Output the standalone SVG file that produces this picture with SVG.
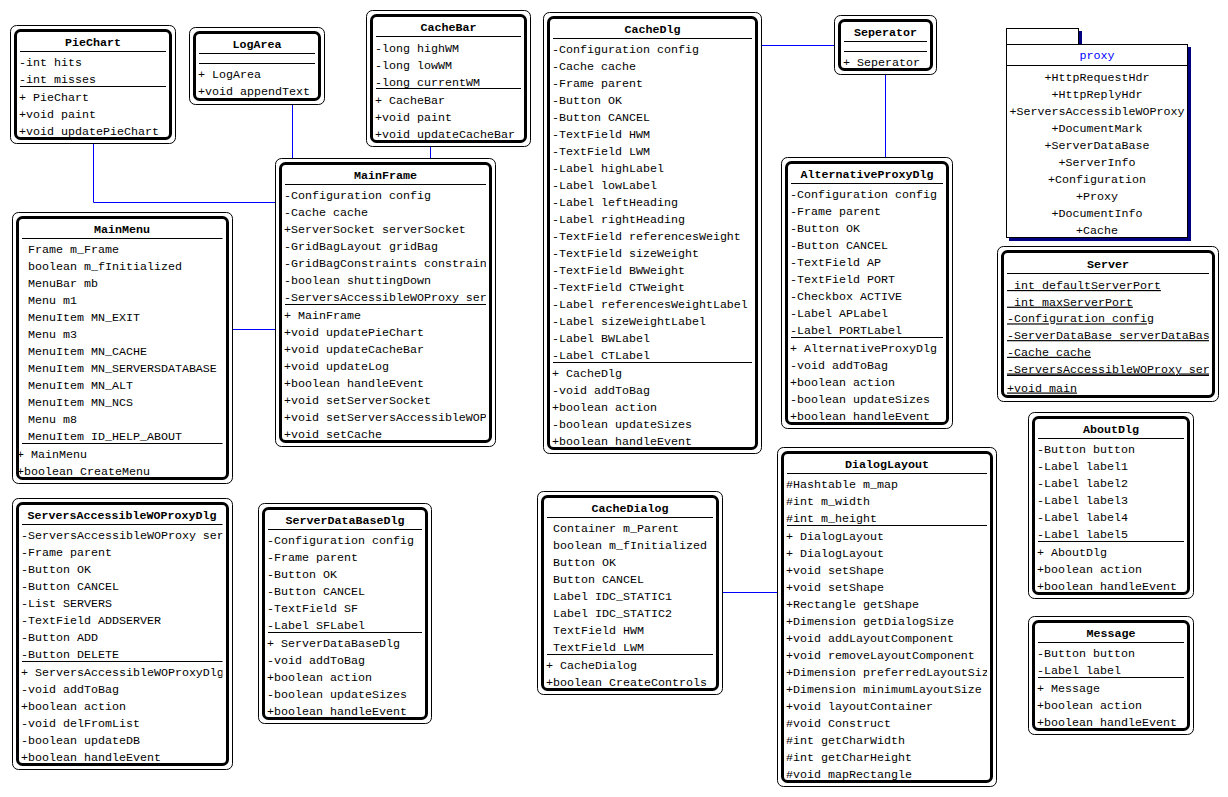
<svg xmlns="http://www.w3.org/2000/svg" width="1228" height="797" viewBox="0 0 1228 797">
<style>
.o{fill:#fff;stroke:#000;stroke-width:1}
.i{fill:none;stroke:#000;stroke-width:3}
.s{stroke:#000;stroke-width:1}
.t{font-family:"Liberation Mono","DejaVu Sans Mono",monospace;font-size:11.67px;fill:#000;white-space:pre}
.h{font-weight:bold;text-anchor:middle}
.u{text-decoration:underline}
.c{stroke:#0000ff;stroke-width:1;fill:none}
.pk{fill:#fff;stroke:#000;stroke-width:1}
.sh{fill:#000080}
.pc{text-anchor:middle}
</style>
<defs>
<clipPath id="cMainFrame"><rect x="284" y="158" width="202" height="289"/></clipPath>
<clipPath id="cServer"><rect x="1006" y="246" width="203" height="156"/></clipPath>
<clipPath id="cSAW"><rect x="21" y="498" width="201.5" height="272"/></clipPath>
<clipPath id="cDL"><rect x="786" y="447" width="201" height="340"/></clipPath>
</defs>
<rect width="1228" height="797" fill="#fff"/>

<g id="connectors">
<polyline class="c" points="93.5,144 93.5,202.5 275,202.5"/>
<line class="c" x1="292.5" y1="104" x2="292.5" y2="158"/>
<line class="c" x1="430.5" y1="146" x2="430.5" y2="158"/>
<line class="c" x1="232" y1="329.5" x2="275" y2="329.5"/>
<line class="c" x1="762" y1="45.5" x2="834" y2="45.5"/>
<line class="c" x1="885.5" y1="75" x2="885.5" y2="157"/>
<line class="c" x1="723" y1="592.5" x2="777" y2="592.5"/>
</g>

<g id="PieChart">
<rect class="o" x="10.5" y="25.5" width="165" height="118" rx="6"/>
<rect class="i" x="15.5" y="30.5" width="155" height="108" rx="5"/>
<text class="t h" x="93" y="46">PieChart</text>
<line class="s" x1="20" y1="51.5" x2="166" y2="51.5"/>
<text class="t" x="19" y="66">-int hits</text>
<text class="t" x="19" y="83">-int misses</text>
<line class="s" x1="20" y1="86.5" x2="166" y2="86.5"/>
<text class="t" x="19" y="101">+ PieChart</text>
<text class="t" x="19" y="118">+void paint</text>
<text class="t" x="19" y="135">+void updatePieChart</text>
</g>

<g id="LogArea">
<rect class="o" x="189.5" y="27.5" width="135" height="77" rx="6"/>
<rect class="i" x="194.5" y="32.5" width="125" height="67" rx="5"/>
<text class="t h" x="257" y="48">LogArea</text>
<line class="s" x1="199" y1="53.5" x2="315" y2="53.5"/>
<line class="s" x1="199" y1="63.5" x2="315" y2="63.5"/>
<text class="t" x="198" y="78">+ LogArea</text>
<text class="t" x="198" y="95">+void appendText</text>
</g>

<g id="CacheBar">
<rect class="o" x="366.5" y="10.5" width="164" height="136" rx="6"/>
<rect class="i" x="371.5" y="15.5" width="154" height="126" rx="5"/>
<text class="t h" x="448.5" y="31">CacheBar</text>
<line class="s" x1="376" y1="36.5" x2="521" y2="36.5"/>
<text class="t" x="375" y="51.5">-long highWM</text>
<text class="t" x="375" y="68.5">-long lowWM</text>
<text class="t" x="375" y="85.5">-long currentWM</text>
<line class="s" x1="376" y1="88.5" x2="521" y2="88.5"/>
<text class="t" x="375" y="103.5">+ CacheBar</text>
<text class="t" x="375" y="120.5">+void paint</text>
<text class="t" x="375" y="137.5">+void updateCacheBar</text>
</g>

<g id="MainFrame">
<rect class="o" x="275.5" y="158.5" width="220" height="288" rx="6"/>
<rect class="i" x="280.5" y="163.5" width="210" height="278" rx="5"/>
<text class="t h" x="385.5" y="179">MainFrame</text>
<line class="s" x1="285" y1="184.5" x2="486" y2="184.5"/>
<g clip-path="url(#cMainFrame)">
<text class="t" x="284" y="199">-Configuration config</text>
<text class="t" x="284" y="216">-Cache cache</text>
<text class="t" x="284" y="233">+ServerSocket serverSocket</text>
<text class="t" x="284" y="250">-GridBagLayout gridBag</text>
<text class="t" x="284" y="267">-GridBagConstraints constrain</text>
<text class="t" x="284" y="284">-boolean shuttingDown</text>
<text class="t" x="284" y="301">-ServersAccessibleWOProxy ser</text>
<text class="t" x="284" y="319">+ MainFrame</text>
<text class="t" x="284" y="336">+void updatePieChart</text>
<text class="t" x="284" y="353">+void updateCacheBar</text>
<text class="t" x="284" y="370">+void updateLog</text>
<text class="t" x="284" y="387">+boolean handleEvent</text>
<text class="t" x="284" y="404">+void setServerSocket</text>
<text class="t" x="284" y="421">+void setServersAccessibleWOP</text>
<text class="t" x="284" y="438">+void setCache</text>
</g>
<line class="s" x1="285" y1="304.5" x2="486" y2="304.5"/>
</g>

<g id="MainMenu">
<rect class="o" x="12.5" y="212.5" width="220" height="271" rx="6"/>
<rect class="i" x="17.5" y="217.5" width="210" height="261" rx="5"/>
<text class="t h" x="122" y="233">MainMenu</text>
<line class="s" x1="22" y1="238.5" x2="222.5" y2="238.5"/>
<text class="t" x="21" y="253" xml:space="preserve"> Frame m_Frame</text>
<text class="t" x="21" y="270" xml:space="preserve"> boolean m_fInitialized</text>
<text class="t" x="21" y="287" xml:space="preserve"> MenuBar mb</text>
<text class="t" x="21" y="304" xml:space="preserve"> Menu m1</text>
<text class="t" x="21" y="321" xml:space="preserve"> MenuItem MN_EXIT</text>
<text class="t" x="21" y="338" xml:space="preserve"> Menu m3</text>
<text class="t" x="21" y="355" xml:space="preserve"> MenuItem MN_CACHE</text>
<text class="t" x="21" y="372" xml:space="preserve"> MenuItem MN_SERVERSDATABASE</text>
<text class="t" x="21" y="389" xml:space="preserve"> MenuItem MN_ALT</text>
<text class="t" x="21" y="406" xml:space="preserve"> MenuItem MN_NCS</text>
<text class="t" x="21" y="423" xml:space="preserve"> Menu m8</text>
<text class="t" x="21" y="440" xml:space="preserve"> MenuItem ID_HELP_ABOUT</text>
<line class="s" x1="22" y1="443.5" x2="222.5" y2="443.5"/>
<text class="t" x="17" y="458">+ MainMenu</text>
<text class="t" x="17" y="475">+boolean CreateMenu</text>
</g>

<g id="ServersAccessibleWOProxyDlg">
<rect class="o" x="12.5" y="498.5" width="220" height="271" rx="6"/>
<rect class="i" x="17.5" y="503.5" width="210" height="261" rx="5"/>
<text class="t h" x="122" y="519">ServersAccessibleWOProxyDlg</text>
<line class="s" x1="22" y1="524.5" x2="222.5" y2="524.5"/>
<g clip-path="url(#cSAW)">
<text class="t" x="21" y="539">-ServersAccessibleWOProxy ser</text>
<text class="t" x="21" y="556">-Frame parent</text>
<text class="t" x="21" y="573">-Button OK</text>
<text class="t" x="21" y="590">-Button CANCEL</text>
<text class="t" x="21" y="607">-List SERVERS</text>
<text class="t" x="21" y="624">-TextField ADDSERVER</text>
<text class="t" x="21" y="641">-Button ADD</text>
<text class="t" x="21" y="658">-Button DELETE</text>
<text class="t" x="21" y="676">+ ServersAccessibleWOProxyDlg</text>
<text class="t" x="21" y="693">-void addToBag</text>
<text class="t" x="21" y="710">+boolean action</text>
<text class="t" x="21" y="727">-void delFromList</text>
<text class="t" x="21" y="744">-boolean updateDB</text>
<text class="t" x="21" y="761">+boolean handleEvent</text>
</g>
<line class="s" x1="22" y1="661.5" x2="222.5" y2="661.5"/>
</g>

<g id="ServerDataBaseDlg">
<rect class="o" x="258.5" y="503.5" width="173" height="220" rx="6"/>
<rect class="i" x="263.5" y="508.5" width="163" height="210" rx="5"/>
<text class="t h" x="345" y="524">ServerDataBaseDlg</text>
<line class="s" x1="268" y1="529.5" x2="422" y2="529.5"/>
<text class="t" x="267" y="544">-Configuration config</text>
<text class="t" x="267" y="561">-Frame parent</text>
<text class="t" x="267" y="578">-Button OK</text>
<text class="t" x="267" y="595">-Button CANCEL</text>
<text class="t" x="267" y="612">-TextField SF</text>
<text class="t" x="267" y="629">-Label SFLabel</text>
<line class="s" x1="268" y1="632.5" x2="422" y2="632.5"/>
<text class="t" x="267" y="647">+ ServerDataBaseDlg</text>
<text class="t" x="267" y="664">-void addToBag</text>
<text class="t" x="267" y="681">+boolean action</text>
<text class="t" x="267" y="698">-boolean updateSizes</text>
<text class="t" x="267" y="715">+boolean handleEvent</text>
</g>

<g id="CacheDlg">
<rect class="o" x="543.5" y="12.5" width="218" height="441" rx="6"/>
<rect class="i" x="548.5" y="17.5" width="208" height="431" rx="5"/>
<text class="t h" x="652.5" y="33">CacheDlg</text>
<line class="s" x1="553" y1="38.5" x2="752" y2="38.5"/>
<text class="t" x="552" y="53">-Configuration config</text>
<text class="t" x="552" y="70">-Cache cache</text>
<text class="t" x="552" y="87">-Frame parent</text>
<text class="t" x="552" y="104">-Button OK</text>
<text class="t" x="552" y="121">-Button CANCEL</text>
<text class="t" x="552" y="138">-TextField HWM</text>
<text class="t" x="552" y="155">-TextField LWM</text>
<text class="t" x="552" y="172">-Label highLabel</text>
<text class="t" x="552" y="189">-Label lowLabel</text>
<text class="t" x="552" y="206">-Label leftHeading</text>
<text class="t" x="552" y="223">-Label rightHeading</text>
<text class="t" x="552" y="240">-TextField referencesWeight</text>
<text class="t" x="552" y="257">-TextField sizeWeight</text>
<text class="t" x="552" y="274">-TextField BWWeight</text>
<text class="t" x="552" y="291">-TextField CTWeight</text>
<text class="t" x="552" y="308">-Label referencesWeightLabel</text>
<text class="t" x="552" y="325">-Label sizeWeightLabel</text>
<text class="t" x="552" y="342">-Label BWLabel</text>
<text class="t" x="552" y="359">-Label CTLabel</text>
<line class="s" x1="553" y1="362.5" x2="752" y2="362.5"/>
<text class="t" x="552" y="377">+ CacheDlg</text>
<text class="t" x="552" y="394">-void addToBag</text>
<text class="t" x="552" y="411">+boolean action</text>
<text class="t" x="552" y="428">-boolean updateSizes</text>
<text class="t" x="552" y="445">+boolean handleEvent</text>
</g>

<g id="Seperator">
<rect class="o" x="834.5" y="15.5" width="102" height="59" rx="6"/>
<rect class="i" x="839.5" y="20.5" width="92" height="49" rx="5"/>
<text class="t h" x="885.5" y="36">Seperator</text>
<line class="s" x1="844" y1="41.5" x2="927" y2="41.5"/>
<line class="s" x1="844" y1="51.5" x2="927" y2="51.5"/>
<text class="t" x="843" y="66">+ Seperator</text>
</g>

<g id="AlternativeProxyDlg">
<rect class="o" x="781.5" y="157.5" width="171" height="271" rx="6"/>
<rect class="i" x="786.5" y="162.5" width="161" height="261" rx="5"/>
<text class="t h" x="867" y="178">AlternativeProxyDlg</text>
<line class="s" x1="791" y1="183.5" x2="943" y2="183.5"/>
<text class="t" x="790" y="198">-Configuration config</text>
<text class="t" x="790" y="215">-Frame parent</text>
<text class="t" x="790" y="232">-Button OK</text>
<text class="t" x="790" y="249">-Button CANCEL</text>
<text class="t" x="790" y="266">-TextField AP</text>
<text class="t" x="790" y="283">-TextField PORT</text>
<text class="t" x="790" y="300">-Checkbox ACTIVE</text>
<text class="t" x="790" y="317">-Label APLabel</text>
<text class="t" x="790" y="334">-Label PORTLabel</text>
<line class="s" x1="791" y1="337.5" x2="943" y2="337.5"/>
<text class="t" x="790" y="352">+ AlternativeProxyDlg</text>
<text class="t" x="790" y="369">-void addToBag</text>
<text class="t" x="790" y="386">+boolean action</text>
<text class="t" x="790" y="403">-boolean updateSizes</text>
<text class="t" x="790" y="420">+boolean handleEvent</text>
</g>

<g id="proxy">
<rect class="sh" x="1009" y="31" width="73" height="16"/>
<rect class="sh" x="1009" y="47" width="182" height="194"/>
<rect class="pk" x="1006.5" y="28.5" width="72" height="16"/>
<rect class="pk" x="1006.5" y="44.5" width="181" height="193"/>
<text class="t pc" x="1097" y="59" style="fill:#0000ff">proxy</text>
<line class="s" x1="1006.5" y1="65.5" x2="1187.5" y2="65.5"/>
<text class="t pc" x="1097" y="81">+HttpRequestHdr</text>
<text class="t pc" x="1097" y="98">+HttpReplyHdr</text>
<text class="t pc" x="1097" y="115">+ServersAccessibleWOProxy</text>
<text class="t pc" x="1097" y="132">+DocumentMark</text>
<text class="t pc" x="1097" y="149">+ServerDataBase</text>
<text class="t pc" x="1097" y="166">+ServerInfo</text>
<text class="t pc" x="1097" y="183">+Configuration</text>
<text class="t pc" x="1097" y="200">+Proxy</text>
<text class="t pc" x="1097" y="217">+DocumentInfo</text>
<text class="t pc" x="1097" y="234">+Cache</text>
</g>

<g id="Server">
<rect class="o" x="997.5" y="246.5" width="221" height="155" rx="6"/>
<rect class="i" x="1002.5" y="251.5" width="211" height="145" rx="5"/>
<text class="t h" x="1108" y="268">Server</text>
<line class="s" x1="1007" y1="273.5" x2="1209" y2="273.5"/>
<g clip-path="url(#cServer)">
<text class="t u" x="1007" y="289" xml:space="preserve"> int defaultServerPort</text>
<text class="t u" x="1007" y="305.7" xml:space="preserve"> int maxServerPort</text>
<text class="t u" x="1007" y="322.4">-Configuration config</text>
<text class="t u" x="1007" y="339.1">-ServerDataBase serverDataBas</text>
<text class="t u" x="1007" y="355.8">-Cache cache</text>
<text class="t u" x="1007" y="372.5">-ServersAccessibleWOProxy ser</text>
<text class="t u" x="1007" y="391.5">+void main</text>
</g>
<line class="s" x1="1007" y1="375.5" x2="1209" y2="375.5"/>
</g>

<g id="AboutDlg">
<rect class="o" x="1028.5" y="412.5" width="165" height="186" rx="6"/>
<rect class="i" x="1033.5" y="417.5" width="155" height="176" rx="5"/>
<text class="t h" x="1111" y="433">AboutDlg</text>
<line class="s" x1="1038" y1="438.5" x2="1184" y2="438.5"/>
<text class="t" x="1037" y="453">-Button button</text>
<text class="t" x="1037" y="470">-Label label1</text>
<text class="t" x="1037" y="487">-Label label2</text>
<text class="t" x="1037" y="504">-Label label3</text>
<text class="t" x="1037" y="521">-Label label4</text>
<text class="t" x="1037" y="538">-Label label5</text>
<line class="s" x1="1038" y1="541.5" x2="1184" y2="541.5"/>
<text class="t" x="1037" y="556">+ AboutDlg</text>
<text class="t" x="1037" y="573">+boolean action</text>
<text class="t" x="1037" y="590">+boolean handleEvent</text>
</g>

<g id="Message">
<rect class="o" x="1028.5" y="616.5" width="165" height="118" rx="6"/>
<rect class="i" x="1033.5" y="621.5" width="155" height="108" rx="5"/>
<text class="t h" x="1111" y="637">Message</text>
<line class="s" x1="1038" y1="642.5" x2="1184" y2="642.5"/>
<text class="t" x="1037" y="657">-Button button</text>
<text class="t" x="1037" y="674">-Label label</text>
<line class="s" x1="1038" y1="677.5" x2="1184" y2="677.5"/>
<text class="t" x="1037" y="692">+ Message</text>
<text class="t" x="1037" y="709">+boolean action</text>
<text class="t" x="1037" y="726">+boolean handleEvent</text>
</g>

<g id="CacheDialog">
<rect class="o" x="537.5" y="491.5" width="185" height="203" rx="6"/>
<rect class="i" x="542.5" y="496.5" width="175" height="193" rx="5"/>
<text class="t h" x="630" y="512">CacheDialog</text>
<line class="s" x1="547" y1="517.5" x2="713" y2="517.5"/>
<text class="t" x="546" y="532" xml:space="preserve"> Container m_Parent</text>
<text class="t" x="546" y="549" xml:space="preserve"> boolean m_fInitialized</text>
<text class="t" x="546" y="566" xml:space="preserve"> Button OK</text>
<text class="t" x="546" y="583" xml:space="preserve"> Button CANCEL</text>
<text class="t" x="546" y="600" xml:space="preserve"> Label IDC_STATIC1</text>
<text class="t" x="546" y="617" xml:space="preserve"> Label IDC_STATIC2</text>
<text class="t" x="546" y="634" xml:space="preserve"> TextField HWM</text>
<text class="t" x="546" y="651" xml:space="preserve"> TextField LWM</text>
<line class="s" x1="547" y1="654.5" x2="713" y2="654.5"/>
<text class="t" x="546" y="669">+ CacheDialog</text>
<text class="t" x="546" y="686">+boolean CreateControls</text>
</g>

<g id="DialogLayout">
<rect class="o" x="777.5" y="447.5" width="219" height="339" rx="6"/>
<rect class="i" x="782.5" y="452.5" width="209" height="329" rx="5"/>
<text class="t h" x="887" y="468">DialogLayout</text>
<line class="s" x1="787" y1="473.5" x2="987" y2="473.5"/>
<g clip-path="url(#cDL)">
<text class="t" x="786" y="488">#Hashtable m_map</text>
<text class="t" x="786" y="505">#int m_width</text>
<text class="t" x="786" y="522">#int m_height</text>
<text class="t" x="786" y="540">+ DialogLayout</text>
<text class="t" x="786" y="557">+ DialogLayout</text>
<text class="t" x="786" y="574">+void setShape</text>
<text class="t" x="786" y="591">+void setShape</text>
<text class="t" x="786" y="608">+Rectangle getShape</text>
<text class="t" x="786" y="625">+Dimension getDialogSize</text>
<text class="t" x="786" y="642">+void addLayoutComponent</text>
<text class="t" x="786" y="659">+void removeLayoutComponent</text>
<text class="t" x="786" y="676">+Dimension preferredLayoutSiz</text>
<text class="t" x="786" y="693">+Dimension minimumLayoutSize</text>
<text class="t" x="786" y="710">+void layoutContainer</text>
<text class="t" x="786" y="727">#void Construct</text>
<text class="t" x="786" y="744">#int getCharWidth</text>
<text class="t" x="786" y="761">#int getCharHeight</text>
<text class="t" x="786" y="778">#void mapRectangle</text>
</g>
<line class="s" x1="787" y1="525.5" x2="987" y2="525.5"/>
</g>
</svg>
